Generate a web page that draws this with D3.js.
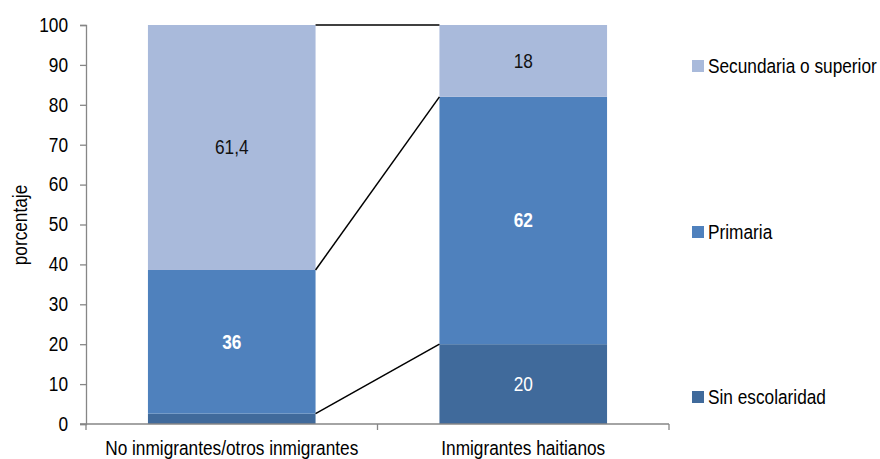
<!DOCTYPE html>
<html><head><meta charset="utf-8">
<script src="https://cdn.jsdelivr.net/npm/d3@7"></script>
<style>
body{margin:0;background:#fff;}
text{font-family:"Liberation Sans",Arial,sans-serif;}
</style></head>
<body><svg id="c" width="880" height="459"></svg>
<script>
const categories = ["No inmigrantes/otros inmigrantes", "Inmigrantes haitianos"];
const seriesNames = ["Sin escolaridad", "Primaria", "Secundaria o superior"];
const sinEscolaridad = [2.6, 20];
const primaria = [36, 62];
const secundaria = [61.4, 18];
const labelText = [["", "20"], ["36", "62"], ["61,4", "18"]];
const yTicks = [0,10,20,30,40,50,60,70,80,90,100];

const colors = ["#406a9b", "#4f81bd", "#a9badb"];
const labelColors = [["#fff","#fff"],["#fff","#fff"],["#111","#111"]];
const labelWeights = [["normal","normal"],["bold","bold"],["normal","normal"]];
const FS = 19.5, SX = 0.885;

const svg = d3.select("#c");
function txt(x0, y0, s, opt={}){
  const t = svg.append("text")
    .attr("transform", `translate(${x0},${y0})${opt.rot?" rotate(-90)":""} scale(${SX},1)`)
    .attr("text-anchor", opt.anchor||"start")
    .attr("font-size", FS)
    .attr("font-weight", opt.weight||"normal")
    .attr("fill", opt.fill||"#000")
    .text(s);
  if(opt.dy) t.attr("dy", opt.dy);
  return t;
}

const x = d3.scaleBand().domain(categories).range([86, 669]).paddingInner(0.425).paddingOuter(0.2125);
const y = d3.scaleLinear().domain([0,100]).range([424, 25]);

const rows = categories.map((c,i)=>({cat:c, v:[sinEscolaridad[i], primaria[i], secundaria[i]]}));
const stacked = rows.map(r=>{let acc=0; return r.v.map(v=>{const s={y0:acc,y1:acc+v}; acc+=v; return s;});});

// bars
seriesNames.forEach((s,k)=>{
  svg.append("g").selectAll("rect").data(rows).enter().append("rect")
    .attr("x", d=>x(d.cat))
    .attr("width", x.bandwidth())
    .attr("y", (d,i)=>y(stacked[i][k].y1))
    .attr("height", (d,i)=>y(stacked[i][k].y0)-y(stacked[i][k].y1))
    .attr("fill", colors[k]);
});

// connector lines
[0,1,2].forEach(k=>{
  svg.append("line")
    .attr("x1", x(categories[0])+x.bandwidth()).attr("y1", y(stacked[0][k].y1))
    .attr("x2", x(categories[1])).attr("y2", y(stacked[1][k].y1))
    .attr("stroke","#000").attr("stroke-width",1.5);
});

// labels
seriesNames.forEach((s,k)=>{
  rows.forEach((r,i)=>{
    const t = labelText[k][i]; if(!t) return;
    txt(x(r.cat)+x.bandwidth()/2, y((stacked[i][k].y0+stacked[i][k].y1)/2), t,
      {anchor:"middle", dy:"0.35em", weight:labelWeights[k][i], fill:labelColors[k][i]});
  });
});

// y axis
const yAxis = svg.append("g").attr("transform","translate(86,0)")
  .call(d3.axisLeft(y).tickValues(yTicks).tickSize(6).tickFormat(""));
yAxis.select(".domain").attr("stroke","#868686").attr("stroke-width",1.3);
yAxis.selectAll(".tick line").attr("stroke","#868686").attr("stroke-width",1.3);
yTicks.forEach(v=>txt(68, y(v), String(v), {anchor:"end", dy:"0.35em"}));

// x axis
const xb = svg.append("g").attr("transform","translate(0,424)");
xb.append("line").attr("x1",80).attr("x2",669).attr("stroke","#868686").attr("stroke-width",1.3);
[0,1,2].forEach(i=>{
  const xx = 86 + i*(669-86)/2;
  xb.append("line").attr("x1",xx).attr("x2",xx).attr("y1",0).attr("y2",6).attr("stroke","#868686").attr("stroke-width",1.3);
});
categories.forEach(c=>txt(x(c)+x.bandwidth()/2, 455, c, {anchor:"middle"}));

// y label
txt(27, 225, "porcentaje", {anchor:"middle", rot:true});

// legend
const legY = [66, 232, 397];
[2,1,0].forEach((k,j)=>{
  svg.append("rect").attr("x",692).attr("y",legY[j]-6).attr("width",12).attr("height",12).attr("fill",colors[k]);
  txt(708, legY[j], seriesNames[k], {dy:"0.35em"});
});
</script></body></html>
